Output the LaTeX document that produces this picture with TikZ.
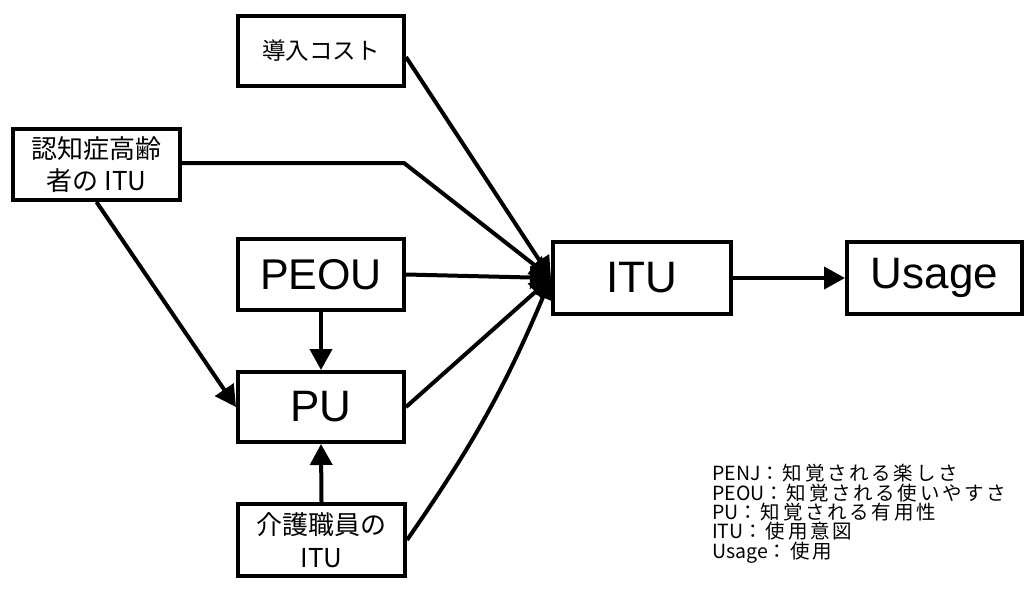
\documentclass[tikz,border=0pt]{standalone}
\usepackage{fontspec}
\setmainfont{Liberation Sans}
\newfontfamily\cjk{Noto Sans CJK JP}
\newfontfamily\legjp[LetterSpace=14]{Noto Sans CJK JP}
\newcommand\legendsetup{\cjk\fontsize{19.5}{19.4}\selectfont\lineskiplimit=-50pt\relax\lineskip=0pt\relax}
\newcommand\lj[1]{{\legjp #1}}
\usetikzlibrary{arrows.meta}
\tikzset{
  box/.style={draw, line width=4pt, inner sep=0pt, align=center},
  bigbox/.style={box, font=\fontsize{44}{50}\selectfont},
  jpbox/.style={box, font=\cjk\fontsize{26}{32}\selectfont},
  conn/.style={line width=4pt, -{Triangle[length=21pt,width=22pt]}},
}
\begin{document}
\begin{tikzpicture}[x=1pt,y=-1pt]
\useasboundingbox (0,0) rectangle (1025,599);
\node[jpbox, minimum width=166pt, minimum height=70pt, font=\cjk\fontsize{23.5}{28}\selectfont] (cost) at (321,51) {導入コスト};
\node[jpbox, minimum width=167pt, minimum height=71pt] (dem) at (96.5,164.5) {認知症高齢\\者の ITU};
\node[bigbox, minimum width=166pt, minimum height=71pt, font=\fontsize{43}{50}\selectfont] (peou) at (321,274.5) {PEOU};
\node[bigbox, minimum width=166pt, minimum height=70pt] (pu) at (321,407) {PU};
\node[jpbox, minimum width=167pt, minimum height=72pt, font=\cjk\fontsize{26}{33}\selectfont] (staff) at (321.5,540) {介護職員の\\ITU};
\node[bigbox, minimum width=178pt, minimum height=72pt] (itu) at (642,278) {ITU};
\node[bigbox, minimum width=175pt, minimum height=72pt] (usage) at (934.5,278) {Usage};
\coordinate (bend) at (404,163);
\draw[conn] (cost.east |- 0,57) -- (itu.west);
\draw[conn] (dem.east |- bend) -- (bend) -- (itu.west);
\draw[conn] (peou.east) -- (itu.west);
\draw[conn] (pu.east) -- (itu.west);
\draw[conn] (staff.east) to[bend right=6] (itu.west);
\draw[conn] (dem.south) -- (pu.west);
\draw[conn] (peou.south) -- (pu.north);
\draw[conn] (staff.north) -- (pu.south);
\draw[conn] (itu.east) -- (usage.west);
\node[anchor=north west, align=left, inner sep=0pt, font=\legendsetup] (legend) at (712,464) {PENJ\lj{：知覚される楽しさ}\\PEOU\lj{：知覚される使いやすさ}\\PU\lj{：知覚される有用性}\\ITU\lj{：使用意図}\\Usage\lj{：使用}};
\end{tikzpicture}
\end{document}
